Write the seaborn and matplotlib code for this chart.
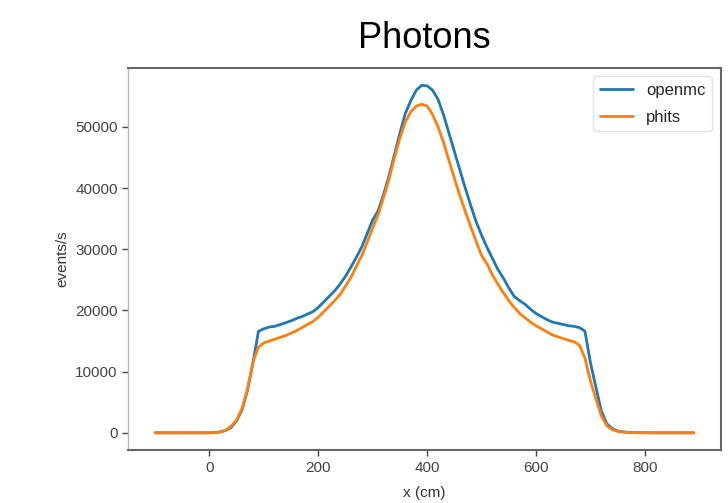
import numpy as np
import pandas as pd
import matplotlib
matplotlib.use("Agg")
import matplotlib.pyplot as plt
import seaborn as sns

# x positions (cm), 10 cm bins
x_cm = list(range(-100, 900, 10))

openmc = [0, 0, 0, 0, 0, 0, 0, 0, 0, 0, 0, 50,
          150, 400, 900, 2000, 3800, 7000, 11500, 16600, 17000, 17300,
          17400, 17700, 18000, 18300, 18700, 19000, 19400, 19800, 20500, 21400,
          22300, 23200, 24300, 25600, 27100, 28700, 30400, 32600, 34800, 36300,
          39000, 42000, 45500, 49000, 52200, 54300, 56000, 56800, 56700, 56000,
          54500, 52000, 49000, 46000, 43000, 40000, 37200, 34500, 32300, 30300,
          28500, 26700, 25300, 23700, 22300, 21600, 21000, 20200, 19500, 19000,
          18500, 18100, 17900, 17700, 17500, 17400, 17200, 16600, 11500, 7500,
          3600, 1500, 700, 300, 150, 80, 40, 20, 10, 0,
          0, 0, 0, 0, 0, 0, 0, 0]

phits = [0, 0, 0, 0, 0, 0, 0, 0, 0, 0, 0, 30,
         100, 450, 1100, 2100, 4000, 7200, 11600, 14000, 14700, 15000,
         15300, 15600, 15900, 16300, 16700, 17200, 17700, 18200, 18900, 19800,
         20700, 21600, 22600, 24000, 25400, 27200, 29000, 31200, 33500, 35700,
         38500, 41500, 45000, 48200, 50800, 52500, 53400, 53700, 53400, 52000,
         50000, 47500, 44500, 41600, 38800, 36200, 33700, 31300, 29000, 27600,
         25800, 24300, 22900, 21600, 20500, 19500, 18800, 18100, 17500, 17000,
         16500, 16000, 15700, 15400, 15100, 14900, 14300, 12200, 8500, 5600,
         2800, 1200, 500, 250, 120, 60, 30, 15, 5, 0,
         0, 0, 0, 0, 0, 0, 0, 0]

df = pd.DataFrame({
    "x": x_cm * 2,
    "events": openmc + phits,
    "code": ["openmc"] * len(x_cm) + ["phits"] * len(x_cm),
})

sns.set_style("ticks")
plt.rcParams['font.family'] = ['Liberation Sans', 'DejaVu Sans']

fig = plt.figure(figsize=(7.28, 5.03), dpi=100)
ax = fig.add_axes([0.176, 0.105, 0.814, 0.76])

sns.lineplot(data=df, x="x", y="events", hue="code",
             palette=["#1f77b4", "#ff7f0e"], linewidth=2, ax=ax)

ax.set_title("Photons", fontsize=26, pad=14, color="black")
ax.set_xlabel("x (cm)", fontsize=11, color="#333333", labelpad=8)
ax.set_ylabel("events/s", fontsize=11, color="#333333")
ax.set_xticks([0, 200, 400, 600, 800])
ax.set_yticks([0, 10000, 20000, 30000, 40000, 50000])
ax.tick_params(labelsize=11, colors="#444444", length=4, width=1)

for side, sp in ax.spines.items():
    sp.set_visible(True)
    sp.set_color("#666666")
    sp.set_linewidth(1.5)
ax.spines["left"].set_color("#bbbbbb")
ax.spines["left"].set_linewidth(1.0)

leg = ax.legend(title=None, loc="upper right", fontsize=12, frameon=True,
                labelspacing=0.7)
leg.get_frame().set_edgecolor("#dddddd")

fig.savefig("out.png", dpi=100)
